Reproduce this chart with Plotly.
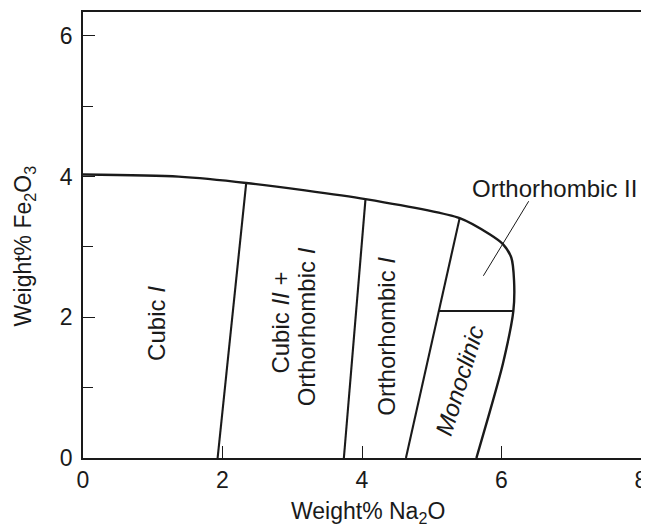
import plotly.graph_objects as go

# Outer phase boundary (Weight% Na2O, Weight% Fe2O3)
boundary_x = [0.0, 1.37, 2.34, 4.05, 5.40, 5.83, 6.02, 6.14, 6.18, 6.17, 6.02, 5.81, 5.64]
boundary_y = [4.03, 4.00, 3.91, 3.68, 3.41, 3.18, 3.04, 2.85, 2.52, 2.09, 1.34, 0.58, 0.0]

# Internal phase boundaries
line1_x = [1.93, 2.34]
line1_y = [0.0, 3.91]
line2_x = [3.74, 4.05]
line2_y = [0.0, 3.68]
line3_x = [4.63, 5.40]
line3_y = [0.0, 3.41]
line4_x = [5.10, 6.17]
line4_y = [2.09, 2.09]

# Leader line for the Orthorhombic II label
leader_x = [6.39, 5.74]
leader_y = [3.65, 2.59]

# Region labels
label_text = ["Cubic <i>I</i>", "Cubic <i>II</i> +", "Orthorhombic <i>I</i>",
              "Orthorhombic <i>I</i>", "<i>Monoclinic</i>", "Orthorhombic II"]
label_x = [1.05, 2.83, 3.21, 4.35, 5.40, 6.76]
label_y = [1.91, 1.93, 1.87, 1.73, 1.10, 3.83]
label_angle = [-90, -90, -90, -90, -73, 0]

x_ticks = [0, 2, 4, 6, 8]
y_ticks = [0, 2, 4, 6]
y_minor = [1, 3, 5]

INK = "#1a1a1a"
FONT = "Liberation Sans, Arial, sans-serif"

fig = go.Figure()
fig.add_trace(go.Scatter(x=boundary_x, y=boundary_y, mode="lines",
                         line=dict(color=INK, width=2.4, shape="spline", smoothing=0.7),
                         hoverinfo="skip", showlegend=False))
for lx, ly in [(line1_x, line1_y), (line2_x, line2_y), (line3_x, line3_y), (line4_x, line4_y)]:
    fig.add_trace(go.Scatter(x=lx, y=ly, mode="lines", line=dict(color=INK, width=2.1),
                             hoverinfo="skip", showlegend=False))
fig.add_trace(go.Scatter(x=leader_x, y=leader_y, mode="lines", line=dict(color=INK, width=1),
                         hoverinfo="skip", showlegend=False))

for t, x, y, a in zip(label_text, label_x, label_y, label_angle):
    fig.add_annotation(x=x, y=y, text=t, textangle=a, showarrow=False,
                       xanchor="center", yanchor="middle",
                       font=dict(family=FONT, size=24, color=INK))

fig.add_annotation(xref="paper", yref="paper", x=0.511, y=-0.122,
                   text="Weight% Na<sub>2</sub>O", showarrow=False,
                   xanchor="center", yanchor="middle",
                   font=dict(family=FONT, size=23, color=INK))
fig.add_annotation(xref="paper", yref="paper", x=-0.105, y=0.475,
                   text="Weight% Fe<sub>2</sub>O<sub>3</sub>", showarrow=False, textangle=-90,
                   xanchor="center", yanchor="middle",
                   font=dict(family=FONT, size=23, color=INK))

fig.update_xaxes(range=[0, 8], tickvals=x_ticks, ticktext=[str(v) for v in x_ticks],
                 ticks="inside", ticklen=12, tickwidth=1.3, tickcolor=INK,
                 showline=True, linecolor=INK, linewidth=1.6, mirror=True,
                 showgrid=False, zeroline=False, ticklabelstandoff=1,
                 ticklabeloverflow="allow",
                 tickfont=dict(family=FONT, size=23, color=INK))
fig.update_yaxes(range=[0, 6.34], tickvals=y_ticks, ticktext=[str(v) for v in y_ticks],
                 ticks="inside", ticklen=12, tickwidth=1.3, tickcolor=INK,
                 minor=dict(tickvals=y_minor, ticks="inside", ticklen=10, tickwidth=1.1,
                            tickcolor=INK, showgrid=False),
                 showline=True, linecolor=INK, linewidth=1.6, mirror=True,
                 showgrid=False, zeroline=False, ticklabelstandoff=4,
                 ticklabeloverflow="allow",
                 tickfont=dict(family=FONT, size=23, color=INK))

# The page body adds an 8 px offset, so the figure is sized to fit the window.
fig.update_layout(width=641, height=519,
                  margin=dict(l=75, r=3, t=2, b=69),
                  paper_bgcolor="white", plot_bgcolor="white",
                  showlegend=False)

fig.write_html("out.html")
